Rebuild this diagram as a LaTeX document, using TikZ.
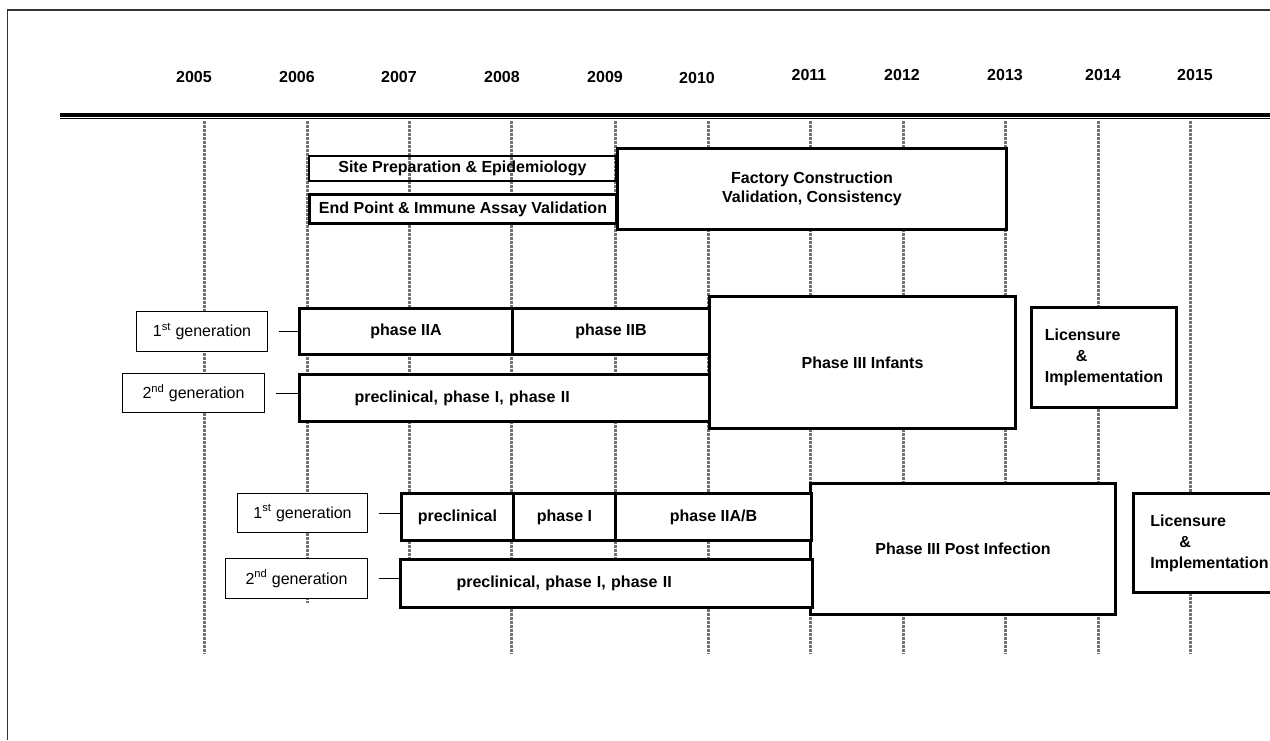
\documentclass[tikz,border=0pt]{standalone}
\usepackage{fontspec}
\setmainfont{Liberation Sans}

\begin{document}
\begin{tikzpicture}[x=1pt,y=-1pt,
   every node/.style={font=\fontsize{16}{19}\selectfont},
   yearlabel/.style={font=\fontsize{16}{19}\selectfont\bfseries},
   yearline/.style={draw=black!55,line width=3,dash pattern=on 3pt off 1pt},
   genbox/.style={draw,fill=white,line width=1.1,inner sep=0,anchor=north west},
   stage/.style={draw,fill=white,line width=3,inner sep=0,anchor=north west,
      font=\fontsize{16}{19}\selectfont\bfseries},
   licbox/.style={stage,align=left,font=\fontsize{16}{21}\selectfont\bfseries},
   link/.style={line width=1}]

\useasboundingbox (0,0) rectangle (1270,740);
\draw[line width=1.5,black!80] (7.5,740) -- (7.5,10) -- (1270,10);

\draw[line width=3.4] (60,115) -- (1270,115);
\draw[line width=1.4] (60,118.6) -- (1270,118.6);

\foreach \yr/\lx/\ly/\gx/\gy in {2005/194/77/204/654,2006/297/77/307/603,
   2007/399/77/409/600,2008/502/77/511/654,2009/605/77/615/600,2010/697/78/708/654,
   2011/809/75/810/654,2012/902/75/903/654,2013/1005/75/1005/654,
   2014/1103/75/1098/654,2015/1195/75/1190/654}{
  \node[yearlabel] (y\yr) at (\lx,\ly) {\yr};
  \draw[yearline] (\gx,121) -- (\gx,\gy);
}

\node[stage,minimum width=307,minimum height=25,fill=none,line width=1.8] (site) at (308,155)
   {Site Preparation \& Epidemiology};
\node[stage,minimum width=307,minimum height=29] (endpt) at (308,193)
   {End Point \& Immune Assay Validation};
\node[stage,minimum width=389,minimum height=81,align=center] (factory) at (616,147)
   {Factory Construction\\Validation, Consistency};

\node[stage,minimum width=306,minimum height=132] (infant) at (708,295) {Phase III Infants};
\node[licbox,minimum width=145,minimum height=100] (lic1) at (1030,306)
   {Licensure\\\hspace*{31pt}\&\\Implementation};
\node[stage,minimum width=213,minimum height=46] (iia) at (298,307) {phase IIA};
\node[stage,minimum width=197,minimum height=46] (iib) at (511,307) {phase IIB};
\node[stage,minimum height=47,inner xsep=55,text width=300,align=left] (pre1) at (298,373)
   {preclinical, phase I, phase II};

\node[stage,minimum width=305,minimum height=131] (post) at (809,482) {Phase III Post Infection};
\node[licbox,minimum width=152,minimum height=99] (lic2) at (1132,492)
   {Licensure\\\hspace*{29pt}\&\\Implementation};
\node[stage,minimum width=112,minimum height=47] (precl) at (400,492) {preclinical};
\node[stage,minimum width=102,minimum height=47] (ph1) at (512,492) {phase I};
\node[stage,minimum width=196,minimum height=47] (iiab) at (614,492) {phase IIA/B};
\node[stage,minimum height=48,inner xsep=56,text width=300,align=left] (pre2) at (399,558)
   {preclinical, phase I, phase II};

\node[genbox,minimum width=131,minimum height=40] (gen1a) at (136,311) {1\textsuperscript{st} generation};
\node[genbox,minimum width=142,minimum height=39] (gen2a) at (122,373) {2\textsuperscript{nd} generation};
\node[genbox,minimum width=130,minimum height=39] (gen1b) at (237,493) {1\textsuperscript{st} generation};
\node[genbox,minimum width=142,minimum height=40] (gen2b) at (225,558) {2\textsuperscript{nd} generation};

\draw[link] ([xshift=11]gen1a.east) -- (gen1a.east -| iia.west);
\draw[link] ([xshift=11]gen2a.east) -- (gen2a.east -| pre1.west);
\draw[link] ([xshift=11]gen1b.east) -- (gen1b.east -| precl.west);
\draw[link] ([xshift=11]gen2b.east) -- (gen2b.east -| pre2.west);
\end{tikzpicture}
\end{document}
